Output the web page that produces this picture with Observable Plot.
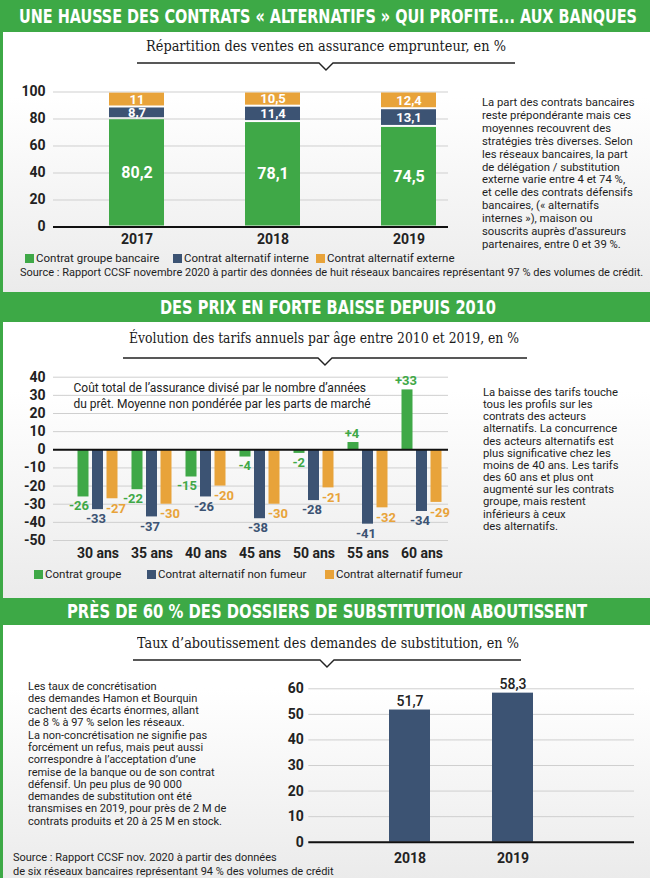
<!DOCTYPE html>
<html><head><meta charset="utf-8">
<script src="https://cdn.jsdelivr.net/npm/d3@7"></script>
<script src="https://cdn.jsdelivr.net/npm/@observablehq/plot@0.6"></script>
<style>
body{margin:0;background:#fff;}
#root{position:relative;width:650px;height:878px;overflow:hidden;background:#fff;font-family:Roboto,"Noto Sans",sans-serif;color:#222;}
.band{position:absolute;left:0;width:650px;background:#3da946;}
.panel{position:absolute;left:3px;width:647px;background:linear-gradient(#ffffff,#ffffff 25%,#ebebeb);}
.htitle{position:absolute;left:0;top:0;white-space:nowrap;color:#fff;font-family:"Liberation Sans Narrow","DejaVu Sans Condensed",sans-serif;font-weight:bold;font-size:19.5px;line-height:22px;}
.sub{position:absolute;left:0;top:0;white-space:nowrap;font-family:"DejaVu Serif Condensed","DejaVu Serif","Liberation Serif",serif;font-stretch:condensed;font-size:15px;line-height:18px;color:#1a1a1a;}
.side{position:absolute;white-space:nowrap;font-size:11px;color:#1e1e1e;}
.legtxt{position:absolute;white-space:nowrap;font-size:11.5px;line-height:14px;color:#222;}
.sw{position:absolute;width:9px;height:9px;}
.chart{position:absolute;}
</style></head>
<body><div id="root"></div>
<script>
// ---------- DATA ----------
const years = ["2017", "2018", "2019"];
const groupeBancaire = [80.2, 78.1, 74.5];
const altInterne = [8.7, 11.4, 13.1];
const altExterne = [11, 10.5, 12.4];
const series1 = ["Contrat groupe bancaire", "Contrat alternatif interne", "Contrat alternatif externe"];
const ticks1 = [0, 20, 40, 60, 80, 100];

const ages = ["30 ans", "35 ans", "40 ans", "45 ans", "50 ans", "55 ans", "60 ans"];
const groupe = [-26, -22, -15, -4, -2, 4, 33];
const nonFumeur = [-33, -37, -26, -38, -28, -41, -34];
const fumeur = [-27, -30, -20, -30, -21, -32, -29];
const series2 = ["Contrat groupe", "Contrat alternatif non fumeur", "Contrat alternatif fumeur"];
const ticks2 = [40, 30, 20, 10, 0, -10, -20, -30, -40, -50];

const years3 = ["2018", "2019"];
const taux = [51.7, 58.3];
const ticks3 = [0, 10, 20, 30, 40, 50, 60];

const GREEN = "#3fa847", NAVY = "#3c5373", ORANGE = "#e8a33a";
const colors = [GREEN, NAVY, ORANGE];

const root = document.getElementById("root");
const fmt = v => String(v).replace(".", ",");

function div(cls, css, html) {
  const el = document.createElement("div");
  el.className = cls;
  Object.assign(el.style, css);
  if (html != null) el.innerHTML = html;
  root.appendChild(el);
  return el;
}

// ---------- FRAME ----------
div("band", {top: "0px", height: "32px"});
div("panel", {top: "32px", height: "260px"});
div("band", {top: "292px", height: "30px"});
div("panel", {top: "322px", height: "276px"});
div("band", {top: "598px", height: "27px"});
div("panel", {top: "625px", height: "253px"});
div("band", {top: "0px", height: "878px", width: "3px"});

function fitText(cls, text, cx, cy, targetW) {
  const el = div(cls, {}, null);
  el.textContent = text;
  const r = el.getBoundingClientRect();
  el.style.left = (cx - targetW / 2) + "px";
  el.style.top = (cy - r.height / 2) + "px";
  el.style.transformOrigin = "0 50%";
  el.style.transform = `scaleX(${targetW / r.width})`;
}
fitText("htitle", "UNE HAUSSE DES CONTRATS « ALTERNATIFS » QUI PROFITE... AUX BANQUES", 328, 17, 618);
fitText("htitle", "DES PRIX EN FORTE BAISSE DEPUIS 2010", 328, 308, 336);
fitText("htitle", "PRÈS DE 60 % DES DOSSIERS DE SUBSTITUTION ABOUTISSENT", 327, 611.5, 520);
fitText("sub", "Répartition des ventes en assurance emprunteur, en %", 326, 46, 360);
fitText("sub", "Évolution des tarifs annuels par âge entre 2010 et 2019, en %", 324, 338, 390);
fitText("sub", "Taux d’aboutissement des demandes de substitution, en %", 328, 643, 382);

// underlines with notch
const ns = "http://www.w3.org/2000/svg";
const deco = document.createElementNS(ns, "svg");
deco.setAttribute("width", 650); deco.setAttribute("height", 878);
deco.style.position = "absolute"; deco.style.left = "0"; deco.style.top = "0";
[[137, 515, 63], [123, 527, 358], [133, 521, 660]].forEach(([x1, x2, y]) => {
  const c = (x1 + x2) / 2;
  const p = document.createElementNS(ns, "polyline");
  p.setAttribute("points", `${x1},${y} ${c - 7},${y} ${c},${y + 7} ${c + 7},${y} ${x2},${y}`);
  p.setAttribute("fill", "none"); p.setAttribute("stroke", "#222"); p.setAttribute("stroke-width", "1.4");
  deco.appendChild(p);
});
root.appendChild(deco);

// ---------- CHART 1 ----------
const rows1 = [];
years.forEach((yr, i) => {
  let base = 0;
  [groupeBancaire[i], altInterne[i], altExterne[i]].forEach((v, k) => {
    rows1.push({year: yr, series: series1[k], value: v, y1: base, y2: base + v, k});
    base += v;
  });
});
const chart1 = Plot.plot({
  width: 470, height: 170, marginTop: 11.5, marginBottom: 23.5, marginLeft: 53, marginRight: 22,
  style: {background: "transparent", fontFamily: "Roboto", fontSize: "14px", fontWeight: "bold", color: "#222"},
  x: {domain: years, range: [68, 476], paddingInner: 0.596, paddingOuter: 0.298, tickSize: 0, tickPadding: 7, label: null},
  y: {domain: [0, 100], ticks: ticks1, tickSize: 0, tickPadding: 8, label: null, tickFormat: d => String(d)},
  color: {domain: series1, range: colors},
  marks: [
    Plot.ruleY(ticks1, {stroke: "#cfcfcf", strokeWidth: 1}),
    Plot.barY(rows1, {x: "year", y1: "y1", y2: "y2", fill: "series", insetTop: 1, insetBottom: 1}),
    Plot.ruleY([0], {stroke: "#111", strokeWidth: 2}),
    Plot.text(rows1.filter(d => d.k === 0), {x: "year", y: d => (d.y1 + d.y2) / 2, text: d => fmt(d.value), fill: "white", fontSize: 16, fontWeight: "bold"}),
    Plot.text(rows1.filter(d => d.k > 0), {x: "year", y: d => (d.y1 + d.y2) / 2, text: d => fmt(d.value), fill: "white", fontSize: 13, fontWeight: "bold"})
  ]
});
chart1.classList.add("chart");
Object.assign(chart1.style, {left: "0px", top: "80px"});
root.appendChild(chart1);

function legend(items, y) {
  items.forEach(([label, color, sx]) => {
    div("sw", {left: sx + "px", top: (y - 4.5) + "px", background: color});
    div("legtxt", {left: (sx + 11) + "px", top: (y - 7) + "px"}).textContent = label;
  });
}
legend([[series1[0], GREEN, 25], [series1[1], NAVY, 173], [series1[2], ORANGE, 316]], 258);

div("side", {left: "20px", top: "266px", lineHeight: "14px"}, "Source&nbsp;: Rapport CCSF novembre 2020 à partir des données de huit réseaux bancaires représentant 97&nbsp;% des volumes de crédit.");
div("side", {left: "482px", top: "97px", lineHeight: "12.9px", fontSize: "11.3px"},
  ["La part des contrats bancaires", "reste prépondérante mais ces", "moyennes recouvrent des", "stratégies très diverses. Selon",
   "les réseaux bancaires, la part", "de délégation / substitution", "externe varie entre 4 et 74&nbsp;%,", "et celle des contrats défensifs",
   "bancaires, («&nbsp;alternatifs", "internes&nbsp;»), maison ou", "souscrits auprès d’assureurs", "partenaires, entre 0 et 39&nbsp;%."].join("<br>"));

// ---------- CHART 2 ----------
const rows2 = [];
ages.forEach((a, i) => {
  [groupe[i], nonFumeur[i], fumeur[i]].forEach((v, k) => rows2.push({age: a, series: series2[k], value: v, k}));
});
const offs = [-14.5, 0, 14.5];
const annotation = "Coût total de l’assurance divisé par le nombre d’années\ndu prêt. Moyenne non pondérée par les parts de marché";
const barMarks = [0, 1, 2].map(k => Plot.barY(rows2.filter(d => d.k === k), {x: "age", y1: 0, y2: "value", fill: "series", dx: offs[k]}));
const LF = 13;
const chart2 = Plot.plot({
  width: 470, height: 205, marginTop: 16.7, marginBottom: 25, marginLeft: 53, marginRight: 22,
  style: {background: "transparent", fontFamily: "Roboto", fontSize: "14px", fontWeight: "bold", color: "#222"},
  x: {domain: ages, range: [69.4, 448.6], paddingInner: 0.8, paddingOuter: 0.4, tickSize: 0, tickPadding: 8, label: null},
  y: {domain: [-50, 40], ticks: ticks2, tickSize: 0, tickPadding: 8, label: null, tickFormat: d => String(d)},
  color: {domain: series2, range: colors},
  marks: [
    Plot.ruleY(ticks2, {stroke: "#cfcfcf", strokeWidth: 1}),
    Plot.text([annotation], {frameAnchor: "top-left", dx: 20, dy: 4, lineAnchor: "top", textAnchor: "start", text: d => d,
      fontSize: 12, fontWeight: "normal", fill: "#222", lineHeight: 1.3, ariaLabel: "annotation"}),
    ...barMarks,
    Plot.ruleY([0], {stroke: "#111", strokeWidth: 2}),
    Plot.text(rows2.filter(d => d.k === 0 && d.value < 0), {x: "age", y: "value", text: d => String(d.value), fill: GREEN, fontSize: LF, fontWeight: "bold", textAnchor: "end", dx: -9, dy: 9}),
    Plot.text(rows2.filter(d => d.k === 0 && d.value >= 0), {x: "age", y: "value", text: d => "+" + d.value, fill: GREEN, fontSize: LF, fontWeight: "bold", dx: -16, dy: -9}),
    Plot.text(rows2.filter(d => d.k === 1), {x: "age", y: "value", text: d => String(d.value), fill: NAVY, fontSize: LF, fontWeight: "bold", dx: -2, dy: 9.5}),
    Plot.text(rows2.filter(d => d.k === 2), {x: "age", y: "value", text: d => String(d.value), fill: ORANGE, fontSize: LF, fontWeight: "bold", textAnchor: "start", dx: 8, dy: 10})
  ]
});
chart2.classList.add("chart");
Object.assign(chart2.style, {left: "0px", top: "360px"});
root.appendChild(chart2);
// white box behind annotation (hides gridlines like the original)
const ag = chart2.querySelector('g[aria-label="annotation"]');
if (ag) {
  const bb = ag.getBBox();
  const rect = document.createElementNS(ns, "rect");
  rect.setAttribute("x", bb.x - 8); rect.setAttribute("y", bb.y);
  rect.setAttribute("width", bb.width + 10); rect.setAttribute("height", bb.height);
  rect.setAttribute("fill", "#fdfdfd");
  ag.parentNode.insertBefore(rect, ag);
}
legend([[series2[0], GREEN, 34], [series2[1], NAVY, 147], [series2[2], ORANGE, 325]], 574);

div("side", {left: "483px", top: "387px", lineHeight: "12.15px", fontSize: "11.3px"},
  ["La baisse des tarifs touche", "tous les profils sur les", "contrats des acteurs", "alternatifs. La concurrence",
   "des acteurs alternatifs est", "plus significative chez les", "moins de 40 ans. Les tarifs", "des 60 ans et plus ont",
   "augmenté sur les contrats", "groupe, mais restent", "inférieurs à ceux", "des alternatifs."].join("<br>"));

// ---------- CHART 3 ----------
const rows3 = years3.map((y, i) => ({year: y, value: taux[i]}));
const chart3 = Plot.plot({
  width: 380, height: 200, marginTop: 18.3, marginBottom: 28.3, marginLeft: 38.3, marginRight: 16,
  style: {background: "transparent", fontFamily: "Roboto", fontSize: "14px", fontWeight: "bold", color: "#222"},
  x: {domain: years3, range: [87.75, 294.75], paddingInner: 0.604, paddingOuter: 0.302, tickSize: 0, tickPadding: 11, label: null},
  y: {domain: [0, 60], ticks: ticks3, tickSize: 0, tickPadding: 5, label: null, tickFormat: d => String(d)},
  marks: [
    Plot.ruleY(ticks3, {stroke: "#cfcfcf", strokeWidth: 1}),
    Plot.barY(rows3, {x: "year", y1: 0, y2: "value", fill: NAVY}),
    Plot.ruleY([0], {stroke: "#111", strokeWidth: 2}),
    Plot.text(rows3, {x: "year", y: "value", text: d => fmt(d.value), fill: "#222", fontSize: 14, fontWeight: 500, lineAnchor: "bottom", dy: -4})
  ]
});
chart3.classList.add("chart");
Object.assign(chart3.style, {left: "270px", top: "670px"});
root.appendChild(chart3);

div("side", {left: "28px", top: "680.5px", lineHeight: "12.3px"},
  ["Les taux de concrétisation", "des demandes Hamon et Bourquin", "cachent des écarts énormes, allant", "de 8&nbsp;% à 97&nbsp;% selon les réseaux.",
   "La non-concrétisation ne signifie pas", "forcément un refus, mais peut aussi", "correspondre à l’acceptation d’une", "remise de la banque ou de son contrat",
   "défensif. Un peu plus de 90&nbsp;000", "demandes de substitution ont été", "transmises en 2019, pour près de 2&nbsp;M de", "contrats produits et 20 à 25&nbsp;M en stock."].join("<br>"));
div("side", {left: "13px", top: "851px", lineHeight: "13.7px"},
  "Source&nbsp;: Rapport CCSF nov. 2020 à partir des données<br>de six réseaux bancaires représentant 94&nbsp;% des volumes de crédit");
</script>
</body></html>
